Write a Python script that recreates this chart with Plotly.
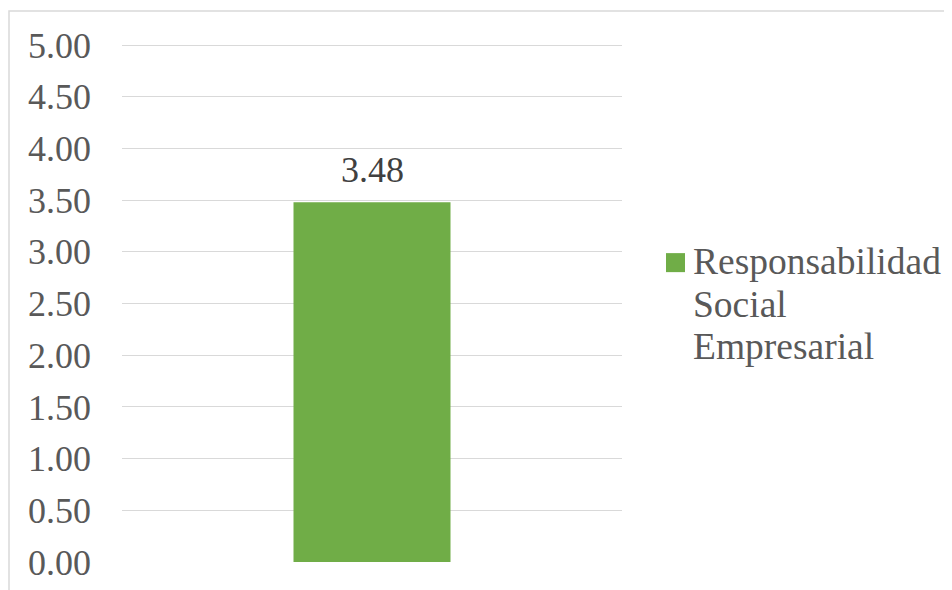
import plotly.graph_objects as go

categories = ["Responsabilidad Social Empresarial"]
values = [3.48]
legend_lines = ["Responsabilidad", "Social", "Empresarial"]
tick_vals = [0, 0.5, 1, 1.5, 2, 2.5, 3, 3.5, 4, 4.5, 5]

FONT = "Liberation Serif, Times New Roman, serif"
GREEN = "#70AD47"

# plot area: 517.7 px tall for range 0..5.01 (top at fig y=36)
PH = 517.7

def py(fig_y):
    return (36 + PH - fig_y) / PH

fig = go.Figure()
fig.add_trace(go.Bar(
    x=categories, y=values, name=categories[0],
    marker=dict(color=GREEN, line=dict(width=0)),
    width=0.314, showlegend=False,
))
for c, v in zip(categories, values):
    fig.add_annotation(x=c, y=v, text=f"{v:.2f}", showarrow=False,
                       yanchor="bottom", yshift=10,
                       font=dict(family=FONT, size=36, color="#404040"))

# manual legend (larger swatch, Word-like line spacing)
line_fig_y = [253, 296, 338]
for txt, fy in zip(legend_lines, line_fig_y):
    fig.add_annotation(xref="paper", yref="paper", x=1.138, y=py(fy), text=txt,
                       showarrow=False, xanchor="left", yanchor="middle",
                       font=dict(family=FONT, size=37.5, color="#595959"))

fig.update_layout(
    width=952, height=590,
    margin=dict(l=114, r=338, t=36, b=36.3),
    paper_bgcolor="white", plot_bgcolor="white",
    font=dict(family=FONT, size=36, color="#595959"),
    showlegend=False,
    xaxis=dict(showticklabels=False, showgrid=False, zeroline=False,
               showline=False, range=[-0.5, 0.5]),
    yaxis=dict(range=[0, 5.01], tickvals=tick_vals, tickformat=".2f",
               showgrid=True, gridcolor="#d9d9d9", gridwidth=1,
               zeroline=False, showline=False, ticks="", ticklabelstandoff=30,
               tickfont=dict(family=FONT, size=36, color="#595959")),
    shapes=[
        dict(type="rect", xref="paper", yref="paper",
             x0=-0.226, x1=1.75, y0=-0.1, y1=py(3),
             line=dict(color="#d9d9d9", width=1.5), fillcolor="rgba(0,0,0,0)",
             layer="below"),
        dict(type="rect", xref="paper", yref="paper",
             x0=1.088, x1=1.126, y0=py(264), y1=py(245),
             line=dict(width=0), fillcolor=GREEN),
    ],
)

fig.write_html("out.html")
